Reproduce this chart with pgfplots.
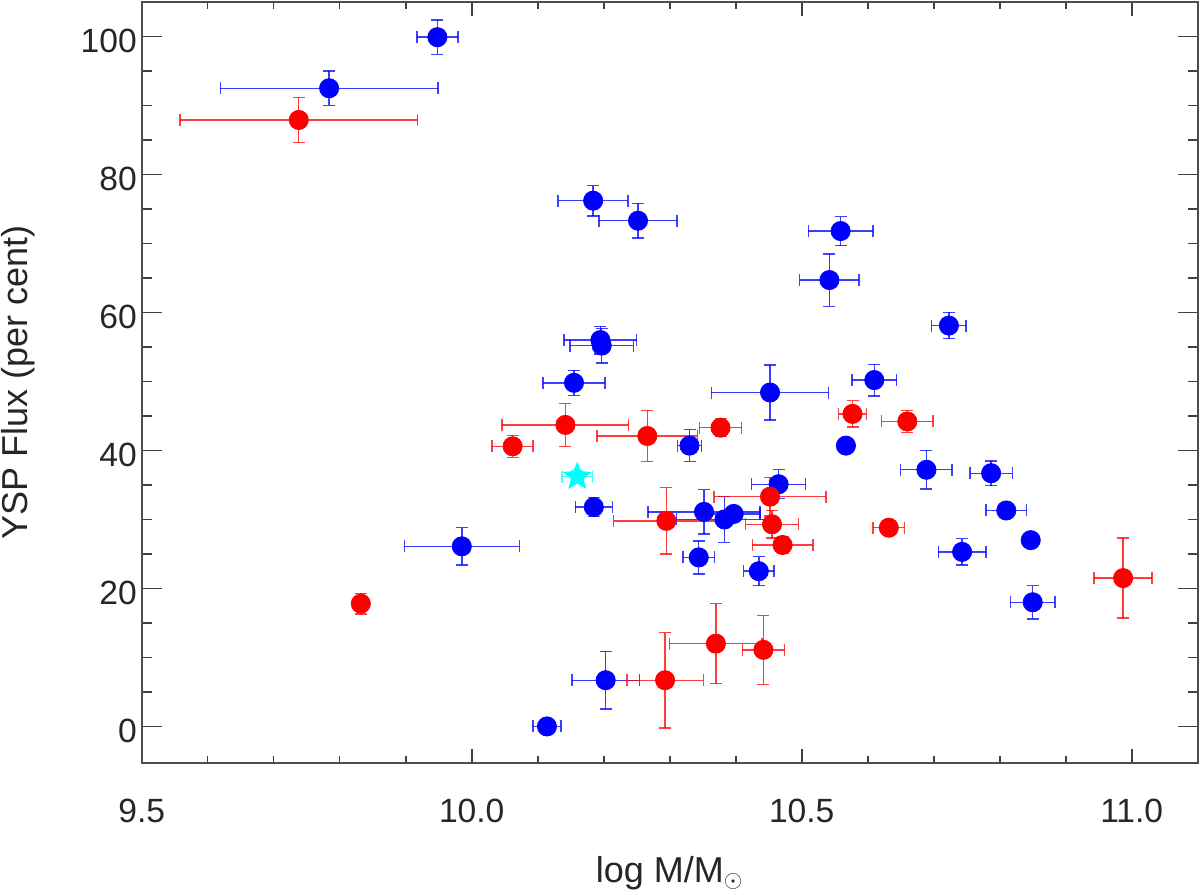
\documentclass[border=0pt]{standalone}
\usepackage{pgfplots}
\pgfplotsset{compat=1.18}
\usepackage{pgfplotstable}
\usepackage{fontspec}
\setmainfont{Liberation Sans}
\definecolor{myblue}{RGB}{0,0,255}
\definecolor{myred}{RGB}{255,0,0}
\definecolor{mycyan}{RGB}{0,255,255}
\pgfdeclareplotmark{fstar}{%
  \pgfpathmoveto{\pgfpointpolar{90}{\pgfplotmarksize}}%
  \pgfpathlineto{\pgfpointpolar{126}{0.45\pgfplotmarksize}}%
  \pgfpathlineto{\pgfpointpolar{162}{\pgfplotmarksize}}%
  \pgfpathlineto{\pgfpointpolar{198}{0.45\pgfplotmarksize}}%
  \pgfpathlineto{\pgfpointpolar{234}{\pgfplotmarksize}}%
  \pgfpathlineto{\pgfpointpolar{270}{0.45\pgfplotmarksize}}%
  \pgfpathlineto{\pgfpointpolar{306}{\pgfplotmarksize}}%
  \pgfpathlineto{\pgfpointpolar{342}{0.45\pgfplotmarksize}}%
  \pgfpathlineto{\pgfpointpolar{18}{\pgfplotmarksize}}%
  \pgfpathlineto{\pgfpointpolar{54}{0.45\pgfplotmarksize}}%
  \pgfpathclose
  \pgfusepathqfillstroke
}
\pgfplotstableread{
x y ex ey
9.948 99.9 0.031 2.5
9.784 92.5 0.165 2.5
10.184 76.2 0.053 2.2
10.252 73.3 0.059 2.5
10.559 71.8 0.049 2.1
10.542 64.7 0.045 3.8
10.723 58.1 0.026 1.9
10.195 56.0 0.055 2.0
10.197 55.2 0.048 2.5
10.155 49.8 0.047 1.8
10.452 48.4 0.089 4.0
10.610 50.2 0.034 2.3
10.330 40.7 0.018 2.3
10.567 40.7 0.011 0.8
10.689 37.2 0.039 2.8
10.787 36.7 0.032 1.8
10.465 35.1 0.041 2.1
10.185 31.8 0.028 1.4
10.352 31.1 0.085 3.2
10.383 30.0 0.073 3.3
10.397 30.8 0.040 0.5
10.810 31.3 0.031 0
10.847 27.0 0 0
9.985 26.1 0.087 2.7
10.743 25.3 0.036 1.9
10.344 24.5 0.024 2.4
10.435 22.5 0.023 2.1
10.850 18.0 0.034 2.4
10.203 6.7 0.051 4.2
10.114 0.0 0.021 0
}\bluedata
\pgfplotstableread{
x y ex ey
9.738 87.9 0.18 3.3
10.142 43.7 0.096 3.1
10.062 40.6 0.031 1.6
10.266 42.1 0.076 3.7
10.377 43.3 0.032 1.3
10.577 45.3 0.021 1.9
10.660 44.2 0.039 1.6
10.295 29.8 0.080 4.8
10.452 33.3 0.085 2.8
10.455 29.3 0.040 2.0
10.471 26.3 0.046 1.2
10.632 28.8 0.024 1.0
9.832 17.8 0 1.5
10.293 6.7 0.058 6.9
10.370 12.0 0.070 5.8
10.442 11.1 0.032 5.0
10.987 21.5 0.044 5.8
}\reddata
\pgfplotstableread{
x y ex ey
10.160 36.2 0.023 0.8
}\stardata
\begin{document}
\begin{tikzpicture}
\begin{axis}[
  scale only axis,
  width=528bp, height=380.5bp,
  xmin=9.5, xmax=11.1, ymin=-5.3, ymax=105,
  xtick={9.5,10.0,10.5,11.0},
  minor x tick num=4,
  ytick={0,20,40,60,80,100},
  minor y tick num=3,
  tick align=inside,
  axis line style={black!70, line width=1bp},
  every tick/.style={black!75, line width=0.8bp},
  major tick length=10bp, minor tick length=5bp,
  xtick style={/pgfplots/major tick length=7.25bp, /pgfplots/minor tick length=3.5bp},
  /pgf/number format/assume math mode=true,
  ticklabel style={font=\fontsize{16.8bp}{20bp}\selectfont, text=black!85},
  xticklabel style={/pgf/number format/.cd, fixed, fixed zerofill, precision=1, /tikz/.cd, anchor=north, inner sep=0pt, yshift=-18bp},
  yticklabel style={anchor=east, inner sep=0pt, xshift=-2.3bp, yshift=-2.3bp},
  every axis x label/.style={at={(axis description cs:0.5,-0.1564)}, anchor=base, font=\fontsize{18bp}{21bp}\selectfont, text=black!85},
  every axis y label/.style={at={(axis description cs:-0.1077,0.5)}, rotate=90, anchor=base, font=\fontsize{18bp}{21bp}\selectfont, text=black!85},
  xlabel={log M/M$_\odot$},
  ylabel={YSP Flux (per cent)},
  clip=false,
]
\addplot+[only marks, mark=*, mark size=4.8bp, draw=myblue, fill=myblue,
  mark options={draw=myblue, fill=myblue},
  error bars/.cd, x dir=both, x explicit, y dir=both, y explicit,
  error bar style={myblue, opacity=0.75, line width=0.7bp},
  error mark options={rotate=90, myblue, opacity=0.75, line width=0.7bp, mark size=3bp}]
  table[x=x, y=y, x error=ex, y error=ey]{\bluedata};
\addplot+[only marks, mark=*, mark size=4.8bp, draw=myred, fill=myred,
  mark options={draw=myred, fill=myred},
  error bars/.cd, x dir=both, x explicit, y dir=both, y explicit,
  error bar style={myred, opacity=0.75, line width=0.7bp},
  error mark options={rotate=90, myred, opacity=0.75, line width=0.7bp, mark size=3bp}]
  table[x=x, y=y, x error=ex, y error=ey]{\reddata};
\addplot+[only marks, mark=fstar, mark size=7bp, draw=mycyan, fill=mycyan,
  mark options={draw=mycyan, fill=mycyan},
  error bars/.cd, x dir=both, x explicit, y dir=both, y explicit,
  error bar style={mycyan, opacity=0.75, line width=0.7bp},
  error mark options={rotate=90, mycyan, opacity=0.75, line width=0.7bp, mark size=3bp}]
  table[x=x, y=y, x error=ex, y error=ey]{\stardata};
\end{axis}
\pgfresetboundingbox
\path[use as bounding box] (-70.85bp,-66bp) rectangle (529.15bp,381.5bp);
\end{tikzpicture}
\end{document}
